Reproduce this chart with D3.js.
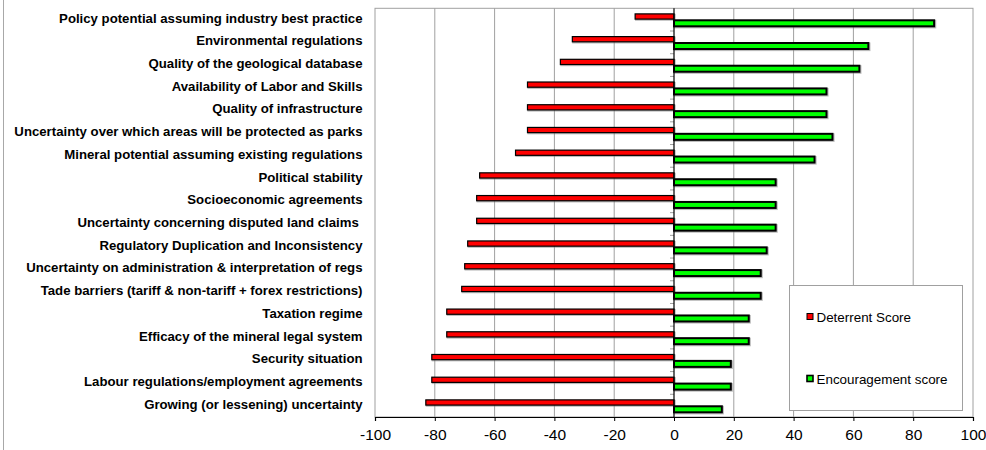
<!DOCTYPE html>
<html>
<head>
<meta charset="utf-8">
<script src="https://cdn.jsdelivr.net/npm/d3@7/dist/d3.min.js"></script>
<style>
  html, body { margin: 0; padding: 0; background: #fff; }
  svg { display: block; font-family: "Liberation Sans", Arial, sans-serif; }
</style>
</head>
<body>
<svg id="chart" width="986" height="450"></svg>
<script>
// Factors, top to bottom
const categories = [
  "Policy potential assuming industry best practice",
  "Environmental regulations",
  "Quality of the geological database",
  "Availability of Labor and Skills",
  "Quality of infrastructure",
  "Uncertainty over which areas will be protected as parks",
  "Mineral potential assuming existing regulations",
  "Political stability",
  "Socioeconomic agreements",
  "Uncertainty concerning disputed land claims ",
  "Regulatory Duplication and Inconsistency",
  "Uncertainty on administration & interpretation of regs",
  "Tade barriers (tariff & non-tariff + forex restrictions)",
  "Taxation regime",
  "Efficacy of the mineral legal system",
  "Security situation",
  "Labour regulations/employment agreements",
  "Growing (or lessening) uncertainty"
];

const deterrentScore = [-13, -34, -38, -49, -49, -49, -53, -65, -66, -66, -69, -70, -71, -76, -76, -81, -81, -83];
const encouragementScore = [87, 65, 62, 51, 51, 53, 47, 34, 34, 34, 31, 29, 29, 25, 25, 19, 19, 16];

const seriesNames = ["Deterrent Score", "Encouragement score"];
const xTicks = [-100, -80, -60, -40, -20, 0, 20, 40, 60, 80, 100];

const svg = d3.select("#chart");

const plot = { left: 375, right: 973, top: 8.3, bottom: 417 };

const x = d3.scaleLinear().domain([-100, 100]).range([plot.left, plot.right]);
const y = d3.scaleBand().domain(categories).range([plot.top, plot.bottom]);
const bw = y.bandwidth();

// Outer frame edge on the left
svg.append("line")
  .attr("x1", 3.5).attr("x2", 3.5).attr("y1", 0).attr("y2", 450)
  .attr("stroke", "#a8a8a8").attr("stroke-width", 1);

// Plot area border
svg.append("rect")
  .attr("x", plot.left).attr("y", plot.top)
  .attr("width", plot.right - plot.left).attr("height", plot.bottom - plot.top)
  .attr("fill", "#fff").attr("stroke", "#a0a0a0").attr("stroke-width", 1);

// Vertical gridlines
svg.append("g")
  .selectAll("line")
  .data(xTicks.filter(t => t !== 0 && t !== -100 && t !== 100))
  .join("line")
  .attr("x1", d => x(d)).attr("x2", d => x(d))
  .attr("y1", plot.top).attr("y2", plot.bottom)
  .attr("stroke", "#a0a0a0").attr("stroke-width", 1);

// Category tick marks along the zero line
const boundaries = categories.map(c => y(c)).concat([plot.bottom]);
svg.append("g")
  .selectAll("line")
  .data(boundaries.slice(1))
  .join("line")
  .attr("x1", x(0) - 4).attr("x2", x(0))
  .attr("y1", d => d).attr("y2", d => d)
  .attr("stroke", "#a0a0a0").attr("stroke-width", 1);

// Bars: red row above, green row below within each category band
const rows = [
  { values: deterrentScore, fill: "#ff0000", off: 5.6, h: 5.2, sw: 1.2 },
  { values: encouragementScore, fill: "#00ff00", off: 12.0, h: 6.0, sw: 2.0 }
];

const bars = svg.append("g");
rows.forEach((r, k) => {
  // soft shadow under each bar
  bars.selectAll(`rect.sh${k}`)
    .data(categories)
    .join("rect")
    .attr("class", `sh${k}`)
    .attr("x", (c, i) => x(Math.min(0, r.values[i])) + 0.8)
    .attr("y", c => y(c) + r.off + 0.8)
    .attr("width", (c, i) => Math.abs(x(r.values[i]) - x(0)))
    .attr("height", r.h)
    .attr("fill", "none")
    .attr("stroke", "#777").attr("stroke-opacity", 0.5).attr("stroke-width", r.sw + 0.6);

  bars.selectAll(`rect.bar${k}`)
    .data(categories)
    .join("rect")
    .attr("class", `bar${k}`)
    .attr("x", (c, i) => x(Math.min(0, r.values[i])))
    .attr("y", c => y(c) + r.off)
    .attr("width", (c, i) => Math.abs(x(r.values[i]) - x(0)))
    .attr("height", r.h)
    .attr("fill", r.fill)
    .attr("stroke", "#000").attr("stroke-width", r.sw);
});

// Zero line
svg.append("line")
  .attr("x1", x(0)).attr("x2", x(0))
  .attr("y1", plot.top).attr("y2", plot.bottom)
  .attr("stroke", "#000").attr("stroke-width", 1.2);

// Bottom value axis
const xAxis = d3.axisBottom(x).tickValues(xTicks).tickSize(4).tickPadding(8)
  .tickFormat(d => String(d));
const gx = svg.append("g")
  .attr("transform", `translate(0,${plot.bottom})`)
  .call(xAxis);
gx.select(".domain").attr("stroke", "#000").attr("stroke-width", 1.2);
gx.selectAll(".tick line").attr("stroke", "#000");
gx.selectAll(".tick text")
  .attr("fill", "#000")
  .style("font-size", "15.5px")
  .style("font-family", "'Liberation Sans', Arial, sans-serif");

// Category labels
svg.append("g")
  .selectAll("text")
  .data(categories)
  .join("text")
  .attr("x", 362.5)
  .attr("y", c => y(c) + bw / 2 - 1.5)
  .attr("text-anchor", "end")
  .attr("dominant-baseline", "central")
  .attr("font-weight", "bold")
  .attr("font-size", "13.2px")
  .attr("fill", "#000")
  .attr("xml:space", "preserve")
  .text(c => c);

// Legend
const legend = svg.append("g");
legend.append("rect")
  .attr("x", 789.5).attr("y", 285.5).attr("width", 173).attr("height", 125)
  .attr("fill", "#fff").attr("stroke", "#a0a0a0").attr("stroke-width", 1);

const legendColors = ["#ff0000", "#00ff00"];
const legendY = [317, 379];
const legendStroke = [1, 1.6];
seriesNames.forEach((name, i) => {
  legend.append("rect")
    .attr("x", 807).attr("y", legendY[i] - 3.5).attr("width", 6).attr("height", 6)
    .attr("fill", legendColors[i]).attr("stroke", "#000").attr("stroke-width", legendStroke[i]);
  legend.append("text")
    .attr("x", 816.5).attr("y", legendY[i])
    .attr("dominant-baseline", "central")
    .attr("font-size", "13.4px")
    .attr("fill", "#000")
    .text(name);
});
</script>
</body>
</html>
